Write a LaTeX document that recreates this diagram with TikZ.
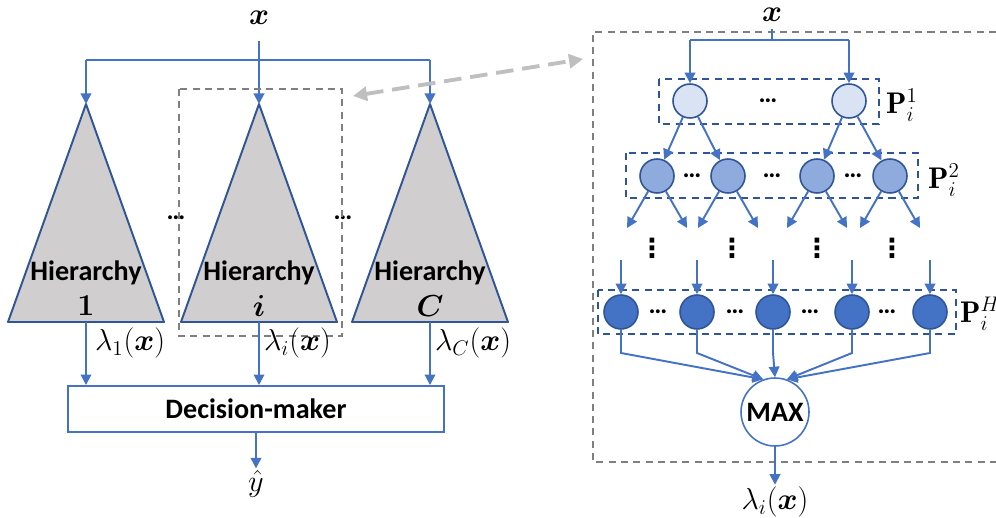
\documentclass[tikz,border=0pt]{standalone}
\usepackage{amsmath,amssymb}
\usepackage{fontspec}
\newfontfamily\labelfont{Carlito}
\newfontfamily\dotfont{DejaVu Sans}
\usetikzlibrary{arrows.meta}

\definecolor{flowblue}{HTML}{4472C4}
\definecolor{rimblue}{HTML}{2F5597}
\definecolor{treegray}{HTML}{D0CECE}
\definecolor{lvlone}{HTML}{DAE3F3}
\definecolor{lvltwo}{HTML}{8FAADC}
\definecolor{lvlh}{HTML}{4472C4}
\definecolor{boxgray}{HTML}{7F7F7F}
\definecolor{linkgray}{HTML}{BFBFBF}

\begin{document}
\begin{tikzpicture}[x=0.02cm,y=-0.02cm,
  wire/.style={flowblue,line width=1.1pt},
  feed/.style={wire,-{Triangle[length=6pt,width=6pt]}},
  tree/.style={draw=rimblue,fill=treegray,line width=1.1pt,line join=round},
  unit/.style={circle,draw=rimblue,line width=0.9pt,minimum size=0.68cm,inner sep=0pt},
  layerbox/.style={draw=rimblue,line width=0.9pt,dash pattern=on 4pt off 3pt},
  selbox/.style={draw=boxgray,line width=0.9pt,dash pattern=on 4pt off 3pt},
  word/.style={font=\labelfont\bfseries\fontsize{16}{19}\selectfont},
  sym/.style={font=\fontsize{17}{20}\selectfont,inner sep=1pt},
  gap/.style={font=\labelfont\bfseries\fontsize{15}{17}\selectfont,inner sep=0pt},
  down/.style={font=\dotfont\bfseries\fontsize{15}{17}\selectfont,inner sep=0pt}]
\useasboundingbox (0,0) rectangle (996,517);

% ensemble of hierarchies
\node[sym] (xin) at (259,18) {$\boldsymbol{x}$};
\coordinate (fork1) at (86,60);
\coordinate (fork3) at (430,60);
\foreach \n/\c in {1/86,2/259,3/430} {
  \coordinate (apex\n) at (\c,104);
  \coordinate (base\n) at (\c,322);
  \draw[tree] (apex\n) -- (\c-78,322) -- (\c+78,322) -- cycle;
}
\draw[wire] (fork1) -- (fork3);
\draw[feed] (fork1) -- (apex1);
\draw[feed] (fork3) -- (apex3);
\draw[feed,shorten <=8pt] (xin) -- (apex2);

\node[word] (hier1) at (86,273) {Hierarchy};
\node[word] (hier2) at (259,273) {Hierarchy};
\node[word] (hier3) at (430,273) {Hierarchy};
\node[sym] (num1) at (86,306) {$\boldsymbol{1}$};
\node[sym] (num2) at (259,306) {$\boldsymbol{i}$};
\node[sym] (num3) at (430,306) {$\boldsymbol{C}$};
\node[gap] (dotsL) at (176,218) {…};
\node[gap] (dotsR) at (343,218) {…};

\draw[selbox] (179,89) rectangle (342,336);

\node[draw=flowblue,line width=1.1pt,minimum width=7.52cm,minimum height=0.92cm,word] (decide) at (256,409) {Decision-maker};
\foreach \n in {1,2,3}
  \draw[feed] (base\n) -- (base\n |- decide.north);
\node[sym,anchor=west] (lam1) at (93,343) {$\lambda_1(\boldsymbol{x})$};
\node[sym,anchor=west] (lam2) at (262,343) {$\lambda_i(\boldsymbol{x})$};
\node[sym,anchor=west] (lam3) at (433,343) {$\lambda_C(\boldsymbol{x})$};
\node[sym] (yhat) at (256,484) {$\hat{y}$};
\draw[feed] (decide) -- (yhat);

% link to the zoomed hierarchy
\coordinate (zoomL) at (353,96);
\coordinate (zoomR) at (583,59);
\draw[linkgray,line width=2.2pt,dash pattern=on 10pt off 5pt,
  {Triangle[length=8pt,width=8pt]}-{Triangle[length=8pt,width=8pt]}] (zoomL) -- (zoomR);

% hierarchy i in detail
\draw[selbox] (996,32) -- (593,32) -- (593,462) -- (996,462);
\node[sym,inner sep=0pt] (xin2) at (772,15) {$\boldsymbol{x}$};
\coordinate (fork4) at (772,40);
\coordinate (forkA) at (690,40);
\coordinate (forkB) at (849,40);

\draw[layerbox] (659,79) rectangle (879,124);
\node[unit,fill=lvlone] (a1) at (690,101) {};
\node[unit,fill=lvlone] (a2) at (849,101) {};
\node[gap] (ga1) at (768,101) {…};
\node[sym,anchor=west] (p1) at (884,105) {$\mathbf{P}_i^1$};
\draw[wire,shorten <=4pt] (xin2) -- (fork4);
\draw[wire] (forkA) -- (forkB);
\draw[feed] (forkA) -- (a1);
\draw[feed] (forkB) -- (a2);

\draw[layerbox] (626,153) rectangle (918,198);
\foreach \n/\c in {1/657,2/728,3/817,4/890} {
  \node[unit,fill=lvltwo] (b\n) at (\c,176) {};
  \coordinate (sl\n) at (\c-30,228);
  \coordinate (sr\n) at (\c+30,228);
  \draw[feed] (b\n) -- (sl\n);
  \draw[feed] (b\n) -- (sr\n);
}
\node[gap] (gb1) at (692,176) {…};
\node[gap] (gb2) at (772,176) {…};
\node[gap] (gb3) at (853,176) {…};
\node[sym,anchor=west] (p2) at (926,180) {$\mathbf{P}_i^2$};
\draw[feed] (a1) -- (b1);
\draw[feed] (a1) -- (b2);
\draw[feed] (a2) -- (b3);
\draw[feed] (a2) -- (b4);

\foreach \n/\c in {1/652,2/732,3/817,4/892}
  \node[down] (vd\n) at (\c,248) {⋮};

\node[unit,draw=flowblue,fill=white,minimum size=1.36cm,word] (max) at (775,412) {MAX};
\draw[layerbox] (598,290) rectangle (956,334);
\foreach \n/\c/\a in {1/621/110,2/697/110,3/773/90,4/852/70,5/930/70} {
  \coordinate (in\n) at (\c,260);
  \coordinate (bend\n) at (\c,353);
  \node[unit,fill=lvlh] (c\n) at (\c,312) {};
  \draw[feed] (in\n) -- (c\n);
  \draw[feed] (c\n) -- (bend\n) -- (max.\a);
}
\node[gap] (gc1) at (658,312) {…};
\node[gap] (gc2) at (735,312) {…};
\node[gap] (gc3) at (810,312) {…};
\node[gap] (gc4) at (887,312) {…};
\node[sym,anchor=west] (pH) at (958,314) {$\mathbf{P}_i^H$};

\node[sym] (lamout) at (775,502) {$\lambda_i(\boldsymbol{x})$};
\draw[feed] (max) -- (lamout);
\end{tikzpicture}
\end{document}
